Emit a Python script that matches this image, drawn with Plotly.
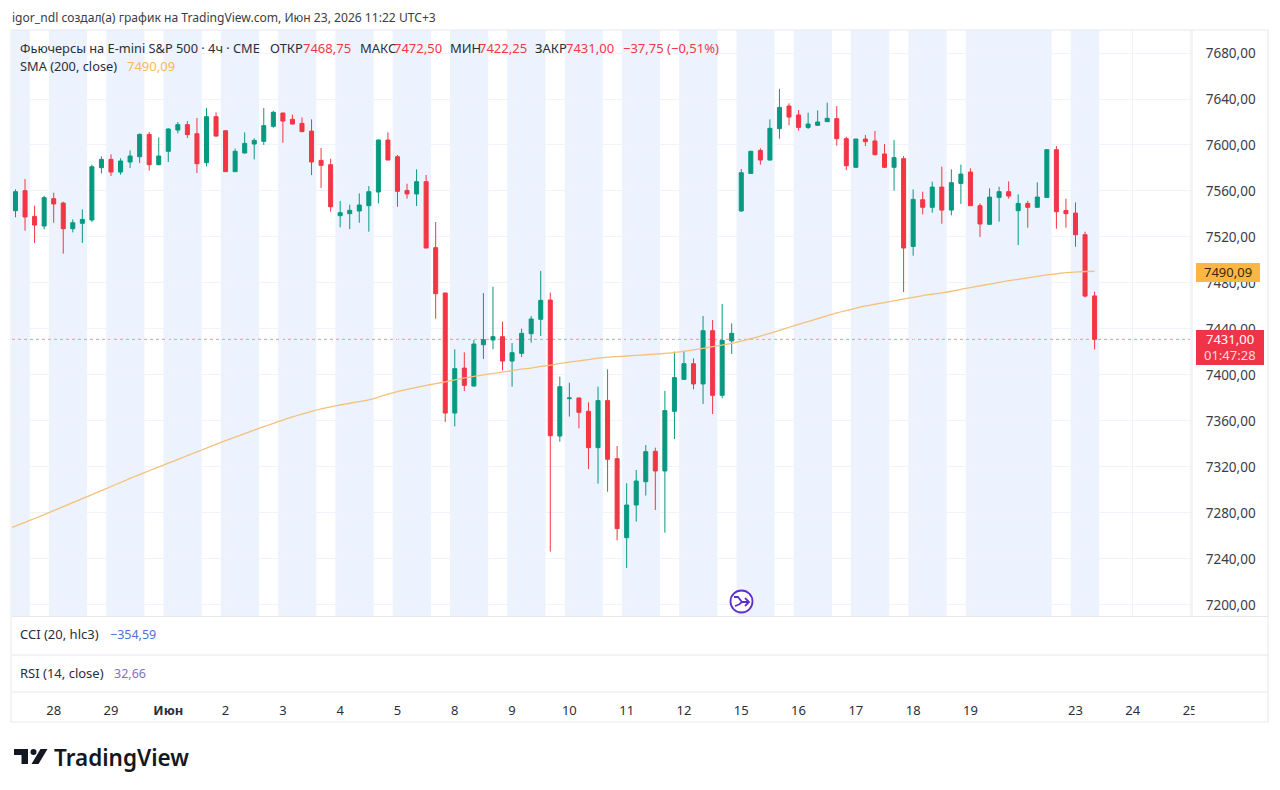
import plotly.graph_objects as go

# E-mini S&P 500 futures, 4h bars
opens = [
    7542.9, 7560.3, 7537.9, 7529.5, 7553.3, 7549.5, 7527.2, 7531.9, 7534.8, 7580.3,
    7587.5, 7576.5, 7585.2, 7589.8, 7609.2, 7582.9, 7594.5, 7613.0, 7617.7, 7609.8,
    7584.6, 7624.6, 7612.4, 7576.8, 7593.0, 7600.8, 7603.2, 7616.2, 7627.8, 7622.3,
    7618.8, 7612.1, 7586.6, 7582.9, 7538.5, 7540.3, 7542.6, 7547.2, 7559.1, 7604.3,
    7589.8, 7560.5, 7557.4, 7568.1, 7510.7, 7471.3, 7366.9, 7406.0, 7390.4, 7426.3,
    7430.4, 7433.3, 7412.1, 7418.8, 7435.9, 7448.4, 7465.2, 7346.9, 7379.4, 7380.0,
    7368.4, 7336.8, 7377.7, 7327.2, 7258.5, 7286.9, 7307.2, 7333.6, 7316.5, 7368.4,
    7396.2, 7409.8, 7392.2, 7438.5, 7382.3, 7429.6, 7542.6, 7575.3, 7595.3, 7586.9,
    7614.2, 7633.9, 7626.1, 7615.3, 7617.1, 7620.3, 7622.9, 7605.5, 7580.6, 7605.2,
    7603.5, 7592.2, 7580.6, 7588.1, 7511.8, 7552.4, 7545.8, 7563.4, 7543.4, 7566.6,
    7576.5, 7547.2, 7531.0, 7554.4, 7559.4, 7542.9, 7549.2, 7545.8, 7554.4, 7595.9,
    7543.1, 7540.8, 7522.0, 7468.75,
]
highs = [
    7561.4, 7570.4, 7547.2, 7555.9, 7558.5, 7550.7, 7535.3, 7544.0, 7582.9, 7590.1,
    7591.9, 7588.4, 7595.3, 7610.1, 7611.3, 7606.6, 7614.5, 7620.0, 7620.8, 7623.5,
    7632.1, 7628.4, 7612.4, 7596.8, 7611.0, 7605.8, 7632.1, 7629.8, 7628.1, 7626.4,
    7624.0, 7622.3, 7597.4, 7588.1, 7551.3, 7548.1, 7557.9, 7564.3, 7604.9, 7611.0,
    7591.3, 7566.3, 7578.8, 7573.9, 7533.0, 7471.3, 7422.3, 7419.7, 7430.4, 7471.3,
    7476.8, 7446.3, 7427.8, 7440.3, 7451.3, 7490.4, 7471.6, 7398.5, 7393.3, 7380.3,
    7376.2, 7389.8, 7404.9, 7338.2, 7305.8, 7317.4, 7339.1, 7336.8, 7386.1, 7420.3,
    7421.1, 7414.5, 7451.3, 7447.8, 7461.7, 7444.9, 7579.1, 7595.0, 7597.1, 7622.3,
    7648.7, 7636.2, 7630.4, 7628.1, 7630.1, 7636.8, 7633.9, 7607.2, 7605.2, 7608.7,
    7612.2, 7600.8, 7604.3, 7590.4, 7561.4, 7559.4, 7568.1, 7581.1, 7578.8, 7582.9,
    7579.7, 7549.2, 7562.3, 7563.7, 7568.4, 7557.1, 7551.5, 7567.5, 7596.2, 7599.1,
    7553.3, 7550.1, 7524.6, 7472.5,
]
lows = [
    7537.1, 7525.5, 7514.8, 7526.6, 7532.4, 7505.5, 7524.0, 7514.8, 7533.0, 7575.3,
    7573.0, 7574.2, 7580.0, 7584.3, 7577.7, 7582.3, 7585.2, 7610.1, 7606.1, 7575.6,
    7581.4, 7607.2, 7576.8, 7576.8, 7592.7, 7587.5, 7600.0, 7615.0, 7602.0, 7617.9,
    7611.6, 7573.9, 7562.6, 7542.0, 7528.4, 7526.9, 7532.4, 7524.6, 7549.2, 7586.9,
    7546.3, 7553.3, 7546.9, 7510.4, 7448.9, 7359.1, 7355.3, 7386.0, 7389.8, 7413.9,
    7422.3, 7404.0, 7389.8, 7415.6, 7428.1, 7433.9, 7246.4, 7342.0, 7363.8, 7353.6,
    7318.2, 7305.5, 7298.5, 7256.2, 7232.2, 7272.5, 7295.1, 7282.6, 7262.9, 7344.3,
    7395.6, 7387.5, 7374.8, 7366.1, 7379.7, 7418.3, 7542.0, 7575.0, 7582.9, 7586.6,
    7605.5, 7617.1, 7612.4, 7613.9, 7616.8, 7620.0, 7599.4, 7578.2, 7580.3, 7599.1,
    7591.0, 7580.3, 7560.3, 7472.1, 7503.7, 7539.7, 7541.1, 7531.5, 7538.8, 7548.7,
    7546.9, 7520.0, 7530.7, 7533.3, 7553.3, 7513.0, 7528.1, 7545.5, 7554.2, 7527.2,
    7528.1, 7511.5, 7467.5, 7422.25,
]
closes = [
    7559.4, 7537.4, 7530.4, 7554.2, 7548.7, 7527.2, 7532.4, 7535.3, 7581.1, 7587.5,
    7576.5, 7586.1, 7590.4, 7609.2, 7582.9, 7590.4, 7613.9, 7617.7, 7609.0, 7583.7,
    7624.6, 7607.8, 7576.8, 7594.5, 7601.4, 7604.0, 7616.8, 7628.4, 7620.8, 7618.2,
    7611.6, 7585.2, 7582.3, 7546.3, 7541.1, 7543.2, 7547.8, 7559.4, 7604.3, 7586.9,
    7559.7, 7557.4, 7568.1, 7510.4, 7470.7, 7366.9, 7405.5, 7391.0, 7426.9, 7430.7,
    7433.3, 7412.1, 7419.4, 7436.2, 7448.7, 7464.9, 7347.2, 7389.8, 7380.0, 7367.5,
    7336.8, 7377.7, 7326.7, 7266.4, 7286.9, 7307.8, 7333.3, 7316.5, 7369.0, 7397.7,
    7409.8, 7392.2, 7438.5, 7382.3, 7430.1, 7436.2, 7575.9, 7594.5, 7586.9, 7614.5,
    7632.7, 7624.3, 7615.3, 7618.2, 7620.0, 7623.2, 7605.5, 7582.0, 7605.2, 7602.9,
    7591.6, 7580.6, 7589.0, 7510.4, 7552.7, 7545.8, 7563.4, 7543.4, 7567.2, 7574.7,
    7547.2, 7531.3, 7554.7, 7559.4, 7555.6, 7549.2, 7545.8, 7554.7, 7595.9, 7542.0,
    7540.2, 7522.0, 7468.6, 7431.0,
]
# SMA begins one bar before the visible window, so it leaves the left edge of the pane
sma_200 = [
    7265.5,
    7268.6, 7271.9, 7275.2, 7278.6, 7282.0, 7285.5, 7289.0, 7292.5, 7296.0, 7299.5,
    7303.0, 7306.5, 7310.0, 7313.4, 7316.7, 7320.0, 7323.3, 7326.6, 7329.9, 7333.1,
    7336.4, 7339.7, 7342.9, 7346.0, 7349.0, 7352.0, 7355.0, 7358.0, 7360.8, 7363.5,
    7366.0, 7368.4, 7370.5, 7372.2, 7373.9, 7375.4, 7376.8, 7378.3, 7380.8, 7383.4,
    7385.6, 7387.4, 7389.2, 7390.9, 7392.5, 7394.0, 7395.7, 7397.4, 7398.8, 7400.0,
    7401.3, 7402.5, 7403.7, 7405.0, 7406.0, 7407.4, 7408.6, 7410.0, 7411.2, 7412.3,
    7413.3, 7414.6, 7415.5, 7416.0, 7416.5, 7417.0, 7417.6, 7418.1, 7418.8, 7419.5,
    7420.6, 7421.8, 7423.2, 7424.6, 7426.0, 7427.4, 7429.5, 7431.5, 7433.8, 7436.2,
    7438.8, 7441.5, 7444.0, 7446.5, 7449.0, 7451.5, 7454.0, 7456.0, 7458.0, 7460.0,
    7461.5, 7463.0, 7464.5, 7466.0, 7467.5, 7469.0, 7470.2, 7471.4, 7472.8, 7474.5,
    7476.0, 7477.5, 7479.0, 7480.5, 7482.0, 7483.2, 7484.5, 7485.7, 7487.0, 7488.0,
    7489.0, 7489.5, 7490.0, 7490.09,
]
bar_index = list(range(len(closes)))
sma_index = list(range(-1, len(closes)))

# Bar index of each date label on the time scale
date_bars = [4, 10, 16, 22, 28, 34, 40, 46, 52, 58, 64, 70, 76, 82, 88, 94, 100, 111, 117, 123]
date_labels = ["28", "29", "<b>Июн</b>", "2", "3", "4", "5", "8", "9", "10", "11", "12",
               "15", "16", "17", "18", "19", "23", "24", "25"]

# Regular-session shading, as (first bar edge, last bar edge)
session_bands = [
    (-0.5, 1.5), (3.5, 7.5), (9.5, 13.5), (15.5, 19.5), (21.5, 25.5), (27.5, 31.5),
    (33.5, 37.5), (39.5, 43.5), (45.5, 49.5), (51.5, 55.5), (57.5, 61.5), (63.5, 67.5),
    (69.5, 73.5), (75.5, 79.5), (81.5, 85.5), (87.5, 91.5), (93.5, 97.5), (99.5, 108.5),
    (110.5, 113.5),
]

last_price = 7431.00
last_sma = 7490.09

W, H = 1280, 790
UP, DOWN = "#089981", "#F23645"
INK = "#2a2e39"
FONT = "Noto Sans"
BORDER = "#e6e8ee"
PANE_L, PANE_R, PANE_T, PANE_B = 12, 1192, 30, 616


def px(x):
    return x / W


def py(y):
    return 1 - y / H


def label(x, y, text, color=INK, size=13, anchor="left", weight=None):
    return dict(
        xref="paper", yref="paper", x=px(x), y=py(y), text=text, showarrow=False,
        xanchor=anchor, yanchor="middle", align="left", borderpad=0, borderwidth=0,
        font=dict(family=FONT, size=size, color=color, weight=weight),
    )


def rect(x0, y0, x1, y1, fill=None, line=None, layer="above"):
    return dict(
        type="rect", xref="paper", yref="paper", x0=px(x0), x1=px(x1), y0=py(y0), y1=py(y1),
        fillcolor=fill or "rgba(0,0,0,0)", layer=layer,
        line=dict(color=line or "rgba(0,0,0,0)", width=1 if line else 0),
    )


def hline(x0, x1, y, color=BORDER):
    return dict(type="line", xref="paper", yref="paper", x0=px(x0), x1=px(x1), y0=py(y), y1=py(y),
                line=dict(color=color, width=1), layer="above")


def polygon(points, fill=None, line=None, width=0, close=True):
    d = "M" + " L".join(f"{px(x):.5f},{py(y):.5f}" for x, y in points) + (" Z" if close else "")
    return dict(type="path", xref="paper", yref="paper", path=d, layer="above",
                fillcolor=fill or "rgba(0,0,0,0)",
                line=dict(color=line or "rgba(0,0,0,0)", width=width))


fig = go.Figure()
fig.add_trace(go.Candlestick(
    x=bar_index, open=opens, high=highs, low=lows, close=closes,
    increasing=dict(line=dict(color=UP, width=1), fillcolor=UP),
    decreasing=dict(line=dict(color=DOWN, width=1), fillcolor=DOWN),
    whiskerwidth=0, hoverinfo="skip", showlegend=False,
))
fig.add_trace(go.Scatter(
    x=sma_index, y=sma_200, mode="lines", hoverinfo="skip", showlegend=False,
    line=dict(color="#F5C07A", width=1.3, shape="spline", smoothing=0.6),
))

shapes = []
for start, end in session_bands:
    shapes.append(dict(
        type="rect", xref="x", yref="paper", x0=start, x1=end, y0=py(PANE_B), y1=py(PANE_T),
        fillcolor="#ECF2FE", line=dict(width=0), layer="below",
    ))

# Last-price guide
shapes.append(dict(
    type="line", xref="paper", yref="y", x0=px(PANE_L), x1=px(PANE_R), y0=last_price, y1=last_price,
    line=dict(color="#F7929B", width=1, dash="dot"), layer="between",
))

# Pane frame and separators; the time scale is cut off at the price-scale edge
shapes += [
    rect(1194.5, 693, 1267, 721, fill="#ffffff"),
    rect(PANE_L - 1, PANE_T, 1268, 722, line=BORDER),
    dict(type="line", xref="paper", yref="paper", x0=px(PANE_R), x1=px(PANE_R), y0=py(PANE_T), y1=py(PANE_B),
         line=dict(color=BORDER, width=1), layer="above"),
    hline(PANE_L, 1268, 616.5),
    hline(PANE_L, 1268, 655),
    hline(PANE_L, 1268, 692),
]

# Price-scale tags
shapes += [
    rect(1196, 263, 1260, 282, fill="#FDB544"),
    rect(1196, 330, 1264, 365, fill="#EF3448"),
]

# Session-break marker
shapes += [
    dict(type="circle", xref="paper", yref="paper", x0=px(730.5), x1=px(752.5), y0=py(590.5), y1=py(612.5),
         fillcolor="#ffffff", line=dict(color="#5E2FD0", width=1.8), layer="above"),
    polygon([(734, 597), (738, 597), (742, 602), (749, 602)], line="#5E2FD0", width=1.8, close=False),
    polygon([(745, 598), (749, 602), (745, 606)], line="#5E2FD0", width=1.8, close=False),
    polygon([(735, 606), (739, 604.5), (742, 602)], line="#5E2FD0", width=1.8, close=False),
]

# TradingView mark
shapes += [
    polygon([(14, 749), (28, 749), (28, 764), (21.5, 764), (21.5, 755), (14, 755)], fill="#131722"),
    dict(type="circle", xref="paper", yref="paper", x0=px(30.5), x1=px(36.5), y0=py(749), y1=py(755),
         fillcolor="#131722", line=dict(width=0), layer="above"),
    polygon([(40.5, 749), (47.5, 749), (38.5, 764), (31.5, 764)], fill="#131722"),
]

annotations = [
    label(12, 17, "igor_ndl создал(а) график на TradingView.com, Июн 23, 2026 11:22 UTC+3", "#3a3d45", 12.1),
    label(20, 48, "Фьючерсы на E-mini S&amp;P 500 · 4ч · CME", INK, 12.8),
    label(270, 48, "ОТКР", INK), label(303, 48, "7468,75", DOWN),
    label(360, 48, "МАКС", INK), label(394, 48, "7472,50", DOWN),
    label(450, 48, "МИН", INK), label(479, 48, "7422,25", DOWN),
    label(535, 48, "ЗАКР", INK), label(566, 48, "7431,00", DOWN),
    label(623, 48, "−37,75 (−0,51%)", DOWN),
    label(20, 66, "SMA (200, close)", INK, 12.8), label(127, 66, "7490,09", "#F7B955"),
    label(20, 634, "CCI (20, hlc3)", INK), label(110, 634, "−354,59", "#4A73D9", 12.5),
    label(20, 673, "RSI (14, close)", INK), label(114, 673, "32,66", "#8A6CC6", 12.5),
    label(1228, 272, "7490,09", "#3a2a08", 13, "center"),
    label(1230, 339, "7431,00", "#ffffff", 13, "center"),
    label(1230, 355, "01:47:28", "#ffd9dc", 13, "center"),
    label(54, 757, "TradingView", "#131722", 22.5, weight=600),
]

fig.update_layout(
    width=W, height=H, margin=dict(l=0, r=0, t=0, b=0, autoexpand=False),
    paper_bgcolor="#ffffff", plot_bgcolor="#ffffff",
    separators=",", boxgap=0.4, showlegend=False,
    font=dict(family=FONT, size=12.5, color=INK),
    shapes=shapes, annotations=annotations,
    xaxis=dict(
        domain=[px(PANE_L), px(PANE_R)], range=[-0.366, 123.2], type="linear",
        rangeslider=dict(visible=False), anchor="free", position=py(692),
        tickmode="array", tickvals=date_bars, ticktext=date_labels,
        showgrid=True, gridcolor="#f1f3f8", gridwidth=1, zeroline=False, showline=False,
        ticks="outside", ticklen=6, tickcolor="rgba(0,0,0,0)",
        tickfont=dict(family=FONT, size=13, color=INK),
    ),
    yaxis=dict(
        domain=[py(PANE_B), py(PANE_T)], range=[7190.4, 7700], side="right",
        anchor="x", tickmode="linear", tick0=7200, dtick=40, tickformat=".2f",
        showgrid=True, gridcolor="#f0f3fa", gridwidth=1, zeroline=False, showline=False,
        ticks="outside", ticklen=10, tickcolor="rgba(0,0,0,0)",
        tickfont=dict(family=FONT, size=13.5, color="#3a3d45"),
    ),
)

fig.write_html("out.html", config={"displayModeBar": False})
